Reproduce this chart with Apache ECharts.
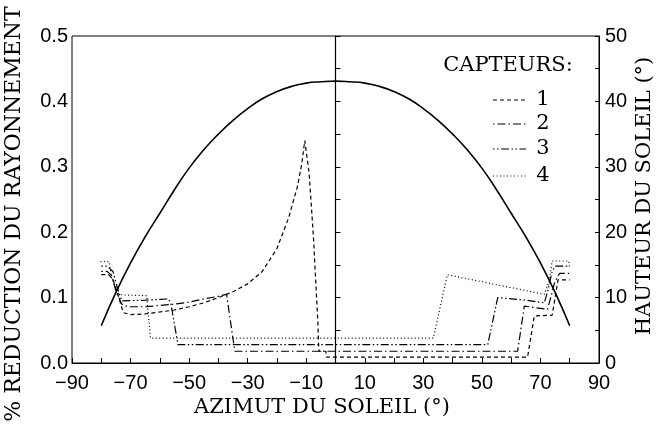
<!DOCTYPE html>
<html>
<head>
<meta charset="utf-8">
<script src="https://cdn.jsdelivr.net/npm/echarts@6/dist/echarts.min.js"></script>
<style>
html,body{margin:0;padding:0;background:#fff;}
#c{width:656px;height:434px;}
</style>
</head>
<body>
<div id="c"></div>
<script>
// ---- data ----
var sunAz   = [-80,-75,-70,-65,-60,-55,-50,-45,-40,-35,-30,-25,-20,-15,-10,-5,0,5,10,15,20,25,30,35,40,45,50,55,60,65,70,75,80];
var sunElev = [5.7,10.8,15.3,19.3,22.9,26.5,29.8,32.6,35.0,37.1,38.9,40.4,41.5,42.3,42.8,43.0,43.1,43.0,42.8,42.3,41.5,40.4,38.9,37.1,35.0,32.6,29.8,26.5,22.9,19.3,15.3,10.8,5.7];

var s1Az  = [-80,-77.5,-76,-74,-72.5,-70,-65,-60,-55,-50,-45,-40,-35,-30,-25,-20,-16,-13,-11.5,-10.5,-9,-7.5,-6,-5.8,-5.6,-3.3,-3.1,0,20,40,60,65.6,67.9,74,75,76,80];
var s1Val = [0.135,0.135,0.128,0.100,0.077,0.074,0.075,0.078,0.081,0.086,0.092,0.100,0.109,0.121,0.140,0.175,0.222,0.270,0.305,0.340,0.290,0.190,0.060,0.030,0.018,0.018,0.009,0.009,0.009,0.009,0.009,0.009,0.072,0.073,0.100,0.127,0.127];

var s2Az  = [-80,-78,-76.5,-75,-73,-71,-65,-60,-55,-50,-45,-40,-37.2,-34.4,62.2,64.5,72.4,73.5,74.8,76.5,80];
var s2Val = [0.140,0.140,0.134,0.110,0.090,0.086,0.086,0.088,0.090,0.093,0.098,0.102,0.105,0.018,0.018,0.087,0.082,0.100,0.122,0.137,0.137];

var s3Az  = [-80,-78,-76,-74.5,-73,-65,-57,-56.2,-53.8,52,55.4,65,71.3,72.5,74,75,80];
var s3Val = [0.148,0.148,0.140,0.115,0.095,0.096,0.098,0.090,0.028,0.028,0.100,0.096,0.092,0.110,0.140,0.148,0.148];

var s4Az  = [-80.3,-77.3,-76.5,-74,-72.3,-64.5,-63.2,33.4,38.2,71.3,73,74,79.7,80];
var s4Val = [0.155,0.155,0.130,0.105,0.104,0.103,0.038,0.038,0.135,0.105,0.125,0.156,0.156,0.145];

var seriesNames = ['1','2','3','4'];
var seriesDash = [[4,3],[1.5,3,8,3],[1.5,2.5,1.5,2.5,8,2.5],[1,2.5]];
var xLabelTicks = [-90,-70,-50,-30,-10,10,30,50,70,90];

function zip(a,b){ return a.map(function(v,i){ return [v,b[i]]; }); }

var chart = echarts.init(document.getElementById('c'), null, {renderer:'canvas'});
var tickFont = {fontFamily:'"Liberation Sans", Arial, sans-serif', fontSize:20, color:'#000'};
var serif = '"DejaVu Serif", "Liberation Serif", serif';

function lineSeries(idx, az, val){
  return {
    name:seriesNames[idx], type:'line', data:zip(az,val), xAxisIndex:0, yAxisIndex:0,
    symbol:'none', smooth:false, silent:true,
    lineStyle:{color:'#000', width:1.2, type:seriesDash[idx]}
  };
}

var s1 = lineSeries(0, s1Az, s1Val);
s1.markLine = {
  silent:true, symbol:['none','none'], label:{show:false},
  lineStyle:{color:'#000', width:1.2, type:'solid'},
  data:[{xAxis:0}], animation:false
};

// legend drawn as graphic (sample line + number)
var legendGraphics = [];
var legendY = [100,124,149,176];
seriesNames.forEach(function(n,i){
  legendGraphics.push({type:'line', shape:{x1:493, y1:legendY[i], x2:526, y2:legendY[i]},
    style:{stroke:'#000', lineWidth:1.2, lineDash:seriesDash[i]}});
  legendGraphics.push({type:'text', x:543, y:legendY[i], style:{text:n, font:'21px '+serif, fill:'#000', textAlign:'center', textVerticalAlign:'middle'}});
});

var option = {
  animation:false,
  backgroundColor:'#fff',
  grid:{left:72, right:57, top:36, bottom:71, show:true, borderColor:'#000', borderWidth:1, backgroundColor:'transparent'},
  xAxis:[{
    type:'value', min:-90, max:90, interval:10,
    axisLine:{lineStyle:{color:'#000', width:1}},
    axisTick:{inside:true, length:5, lineStyle:{color:'#000'}},
    splitLine:{show:false},
    axisLabel:Object.assign({margin:10, formatter:function(v){
      return xLabelTicks.indexOf(v) >= 0 ? String(v).replace('-', '\u2212') : '';
    }}, tickFont)
  }],
  yAxis:[{
    type:'value', min:0, max:0.5, interval:0.05, position:'left',
    axisLine:{show:true, lineStyle:{color:'#000', width:1}},
    axisTick:{show:true, inside:true, length:5, lineStyle:{color:'#000'}},
    splitLine:{show:false},
    axisLabel:Object.assign({margin:4, formatter:function(v){
      var k = Math.round(v*100);
      return (k % 10 === 0) ? (k/100).toFixed(1) : '';
    }}, tickFont)
  },{
    type:'value', min:0, max:50, interval:5, position:'right',
    axisLine:{show:true, lineStyle:{color:'#000', width:1}},
    axisTick:{show:true, inside:true, length:4, lineStyle:{color:'#000'}},
    splitLine:{show:false},
    axisLabel:Object.assign({margin:6, formatter:function(v){
      return (Math.round(v) % 10 === 0) ? String(Math.round(v)) : '';
    }}, tickFont)
  }],
  series:[
    s1,
    lineSeries(1, s2Az, s2Val),
    lineSeries(2, s3Az, s3Val),
    lineSeries(3, s4Az, s4Val),
    {
      name:'sun', type:'line', data:zip(sunAz,sunElev), xAxisIndex:0, yAxisIndex:1,
      symbol:'none', smooth:true, silent:true,
      lineStyle:{color:'#000', width:1.6, type:'solid'}
    }
  ],
  graphic:[
    {type:'text', x:322, y:408, style:{text:'AZIMUT DU SOLEIL (\u00B0)', font:'21px '+serif, fill:'#000', textAlign:'center', textVerticalAlign:'middle'}},
    {type:'text', x:14, y:214, rotation:Math.PI/2, style:{text:'% REDUCTION DU RAYONNEMENT', font:'22px '+serif, fill:'#000', textAlign:'center', textVerticalAlign:'middle'}},
    {type:'text', x:645, y:196, rotation:Math.PI/2, style:{text:'HAUTEUR DU SOLEIL (\u00B0)', font:'21px '+serif, fill:'#000', textAlign:'center', textVerticalAlign:'middle'}},
    {type:'text', x:508, y:66, style:{text:'CAPTEURS:', font:'21px '+serif, fill:'#000', textAlign:'center', textVerticalAlign:'middle'}}
  ].concat(legendGraphics)
};
chart.setOption(option);
</script>
</body>
</html>
